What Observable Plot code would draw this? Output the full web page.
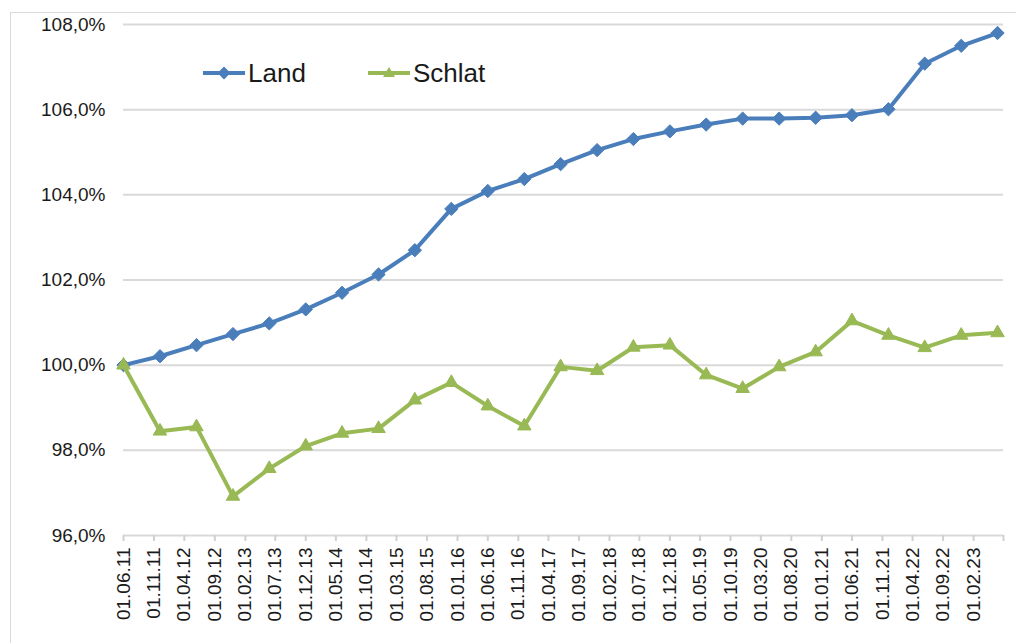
<!DOCTYPE html>
<html><head><meta charset="utf-8">
<script src="https://cdn.jsdelivr.net/npm/d3@7"></script>
<script src="https://cdn.jsdelivr.net/npm/@observablehq/plot@0.6"></script>
<style>
body{margin:0;background:#fff;font-family:"Liberation Sans",Arial,sans-serif;}
#wrap{position:relative;width:1016px;height:643px;overflow:hidden;}
#border{position:absolute;left:10px;top:12px;width:1020px;height:700px;border:1.5px solid #d9d9d9;box-sizing:border-box;}
#wrap svg{position:absolute;left:0;top:0;}
</style></head><body><div id="wrap"><div id="border"></div></div>
<script>
// Data (semiannual)
const dates = ["01.06.11","01.12.11","01.06.12","01.12.12","01.06.13","01.12.13","01.06.14","01.12.14","01.06.15","01.12.15","01.06.16","01.12.16","01.06.17","01.12.17","01.06.18","01.12.18","01.06.19","01.12.19","01.06.20","01.12.20","01.06.21","01.12.21","01.06.22","01.12.22","01.06.23"];
const land = [100.0,100.21,100.47,100.73,100.98,101.31,101.70,102.13,102.70,103.67,104.09,104.37,104.72,105.05,105.31,105.49,105.65,105.79,105.79,105.81,105.87,106.01,107.08,107.50,107.80];
const schlat = [100.0,98.45,98.55,96.92,97.57,98.10,98.40,98.51,99.18,99.59,99.04,98.57,99.96,99.87,100.42,100.47,99.77,99.45,99.96,100.31,101.04,100.70,100.41,100.70,100.76];
const seriesNames = ["Land","Schlat"];
const seriesColors = ["#4A7EBB","#98B954"];
const xTickLabels = ["01.06.11","01.11.11","01.04.12","01.09.12","01.02.13","01.07.13","01.12.13","01.05.14","01.10.14","01.03.15","01.08.15","01.01.16","01.06.16","01.11.16","01.04.17","01.09.17","01.02.18","01.07.18","01.12.18","01.05.19","01.10.19","01.03.20","01.08.20","01.01.21","01.06.21","01.11.21","01.04.22","01.09.22","01.02.23"];
const axisEnd = "01.07.23";
const yTicks = [96,98,100,102,104,106,108];

const parse = s => { const [d,m,y] = s.split(".").map(Number); return new Date(Date.UTC(2000+y, m-1, d)); };
const rows = dates.map((d,i) => ({date: parse(d), land: land[i], schlat: schlat[i]}));
const labelMap = new Map(xTickLabels.map(s => [+parse(s), s]));
const xTicks = [...xTickLabels, axisEnd].map(parse);

const chart = Plot.plot({
  width: 1016, height: 643,
  marginLeft: 123, marginRight: 13, marginTop: 24, marginBottom: 108,
  x: {type: "utc", domain: [parse(dates[0]), parse(axisEnd)]},
  y: {domain: [96,108]},
  style: {fontFamily: "'Liberation Sans', Arial, sans-serif", fontSize: "19px", color: "#1a1a1a", background: "transparent", overflow: "visible"},
  marks: [
    Plot.gridY(yTicks, {stroke: "#d9d9d9", strokeOpacity: 1, strokeWidth: 2}),
    Plot.axisY(yTicks, {tickFormat: d => d.toFixed(1).replace(".", ",") + "%", tickSize: 0, tickPadding: 18, label: null, fill: "#1a1a1a"}),
    Plot.axisX(xTicks, {tickFormat: d => labelMap.get(+d) ?? "", tickRotate: -90, tickSize: 6, tickPadding: 6, stroke: "#d0d0d0", strokeWidth: 2, fill: "#1a1a1a", label: null}),
    Plot.lineY(rows, {x: "date", y: "land", stroke: seriesColors[0], strokeWidth: 4}),
    Plot.dot(rows, {x: "date", y: "land", symbol: "diamond2", r: 6, fill: seriesColors[0], stroke: seriesColors[0], strokeWidth: 1}),
    Plot.lineY(rows, {x: "date", y: "schlat", stroke: seriesColors[1], strokeWidth: 4}),
    Plot.dot(rows, {x: "date", y: "schlat", symbol: "triangle", r: 5, fill: seriesColors[1], stroke: seriesColors[1], strokeWidth: 1})
  ]
});
const wrap = document.getElementById("wrap");
wrap.appendChild(chart);

// Legend overlay
const ns = "http://www.w3.org/2000/svg";
const leg = document.createElementNS(ns, "svg");
leg.setAttribute("width", 1016); leg.setAttribute("height", 120);
const items = [{x: 203, name: seriesNames[0], color: seriesColors[0], sym: "diamond"}, {x: 368, name: seriesNames[1], color: seriesColors[1], sym: "triangle"}];
for (const it of items) {
  const l = document.createElementNS(ns, "line");
  l.setAttribute("x1", it.x); l.setAttribute("x2", it.x + 42); l.setAttribute("y1", 73); l.setAttribute("y2", 73);
  l.setAttribute("stroke", it.color); l.setAttribute("stroke-width", 4);
  leg.appendChild(l);
  const p = document.createElementNS(ns, "path");
  const cx = it.x + 21, cy = 73;
  p.setAttribute("d", it.sym === "diamond"
    ? `M${cx},${cy-6.5}L${cx+6.5},${cy}L${cx},${cy+6.5}L${cx-6.5},${cy}Z`
    : `M${cx},${cy-6}L${cx+6},${cy+4}L${cx-6},${cy+4}Z`);
  p.setAttribute("fill", it.color);
  leg.appendChild(p);
  const t = document.createElementNS(ns, "text");
  t.setAttribute("x", it.x + 45); t.setAttribute("y", 82);
  t.setAttribute("font-size", 26); t.setAttribute("font-family", "'Liberation Sans', Arial, sans-serif");
  t.setAttribute("fill", "#1a1a1a");
  t.textContent = it.name;
  leg.appendChild(t);
}
wrap.appendChild(leg);
</script>
</body></html>
